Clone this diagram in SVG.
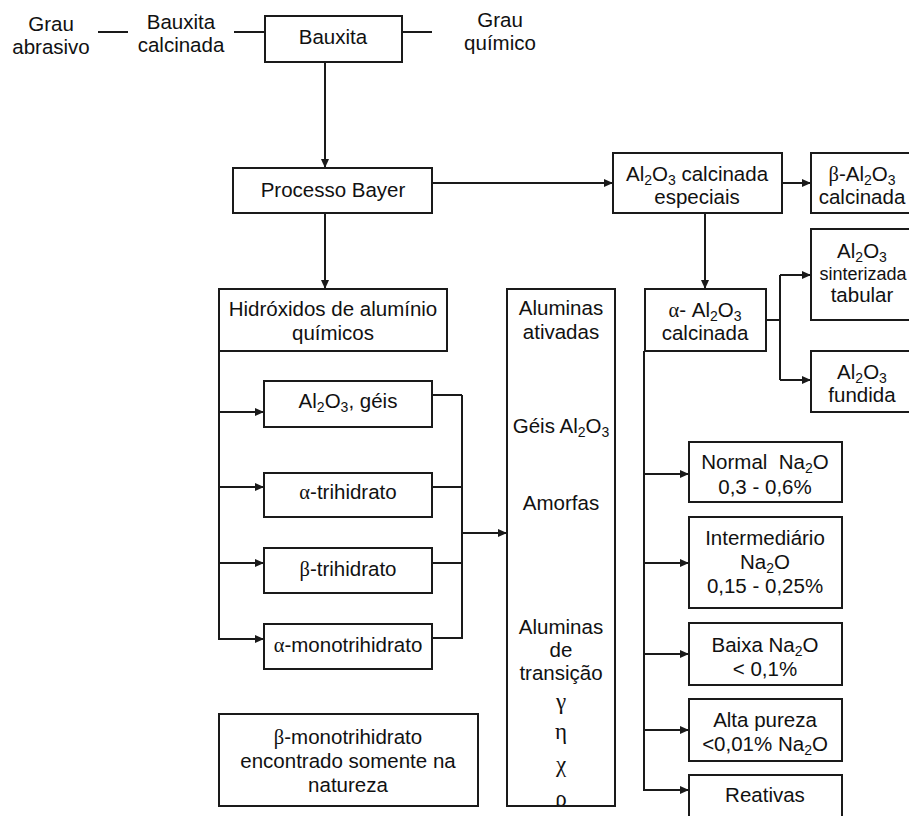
<svg xmlns="http://www.w3.org/2000/svg" width="909" height="816" viewBox="0 0 909 816">
  <style>
    text { font-family: "Liberation Sans", Arial, sans-serif; font-size: 20.5px; fill: #111; text-anchor: middle; }
    .small { font-size: 18px; }
    .gk { font-family: "Liberation Serif", "Times New Roman", serif; }
    .gbig { font-family: "Liberation Serif", "Times New Roman", serif; font-size: 23px; }
    .sub { font-size: 14px; baseline-shift: -4px; }
    .box { fill: #fff; stroke: #1a1a1a; stroke-width: 2; }
    .wire { fill: none; stroke: #1a1a1a; stroke-width: 2; }
    .arr { fill: none; stroke: #1a1a1a; stroke-width: 2; marker-end: url(#head); }
  </style>
  <defs>
    <marker id="head" markerUnits="userSpaceOnUse" markerWidth="9" markerHeight="8" refX="9" refY="4" orient="auto">
      <path d="M0,0 L9,4 L0,8 z" fill="#1a1a1a"/>
    </marker>
    <clipPath id="alClip">
      <rect x="507" y="289" width="108" height="517"/>
    </clipPath>
  </defs>
  <rect width="909" height="816" fill="#fff"/>

  <!-- connectors -->
  <g id="connectors">
    <line class="wire" x1="98" y1="32" x2="128" y2="32"/>
    <line class="wire" x1="234" y1="32" x2="265" y2="32"/>
    <line class="wire" x1="402" y1="32" x2="432" y2="32"/>
    <line class="arr" x1="325" y1="62" x2="325" y2="168"/>
    <line class="arr" x1="325" y1="213" x2="325" y2="289"/>
    <line class="arr" x1="432" y1="183" x2="613" y2="183"/>
    <line class="arr" x1="782" y1="183" x2="811" y2="183"/>
    <line class="arr" x1="705" y1="213" x2="705" y2="289"/>
    <!-- alpha alumina branches -->
    <line class="wire" x1="766" y1="320" x2="780" y2="320"/>
    <line class="wire" x1="780" y1="275" x2="780" y2="380"/>
    <line class="arr" x1="780" y1="275" x2="811" y2="275"/>
    <line class="arr" x1="780" y1="380" x2="811" y2="380"/>
    <line class="wire" x1="644" y1="351" x2="644" y2="790"/>
    <line class="arr" x1="644" y1="474" x2="689" y2="474"/>
    <line class="arr" x1="644" y1="563" x2="689" y2="563"/>
    <line class="arr" x1="644" y1="654" x2="689" y2="654"/>
    <line class="arr" x1="644" y1="730" x2="689" y2="730"/>
    <line class="arr" x1="643" y1="790" x2="689" y2="790"/>
    <!-- hydroxide branches -->
    <line class="wire" x1="219" y1="351" x2="219" y2="639"/>
    <line class="arr" x1="219" y1="412" x2="264" y2="412"/>
    <line class="arr" x1="219" y1="487" x2="264" y2="487"/>
    <line class="arr" x1="219" y1="563" x2="264" y2="563"/>
    <line class="arr" x1="218" y1="639" x2="264" y2="639"/>
    <line class="wire" x1="432" y1="395" x2="462" y2="395"/>
    <line class="wire" x1="432" y1="487" x2="462" y2="487"/>
    <line class="wire" x1="432" y1="563" x2="462" y2="563"/>
    <line class="wire" x1="432" y1="638" x2="463" y2="638"/>
    <line class="wire" x1="462" y1="395" x2="462" y2="638"/>
    <line class="arr" x1="462" y1="533" x2="507" y2="533"/>
  </g>

  <!-- free labels -->
  <g id="grau-abrasivo">
    <text x="51" y="31">Grau</text>
    <text x="51" y="54">abrasivo</text>
  </g>
  <g id="bauxita-calcinada">
    <text x="181" y="29">Bauxita</text>
    <text x="181" y="52">calcinada</text>
  </g>
  <g id="grau-quimico">
    <text x="500" y="27">Grau</text>
    <text x="500" y="50">químico</text>
  </g>

  <g id="bauxita">
    <rect class="box" x="265" y="16" width="137" height="46"/>
    <text x="333" y="44">Bauxita</text>
  </g>

  <g id="processo-bayer">
    <rect class="box" x="233" y="168" width="199" height="45"/>
    <text x="333" y="197">Processo Bayer</text>
  </g>

  <g id="al2o3-especiais">
    <rect class="box" x="613" y="153" width="169" height="60"/>
    <text x="697" y="181">Al<tspan class="sub">2</tspan>O<tspan class="sub">3</tspan> calcinada</text>
    <text x="697" y="204">especiais</text>
  </g>

  <g id="beta-al2o3">
    <rect class="box" x="811" y="153" width="110" height="60"/>
    <text x="862" y="181"><tspan class="gk">β</tspan>-Al<tspan class="sub">2</tspan>O<tspan class="sub">3</tspan></text>
    <text x="862" y="204">calcinada</text>
  </g>

  <g id="al2o3-sinterizada">
    <rect class="box" x="811" y="229" width="110" height="91"/>
    <text x="862" y="258">Al<tspan class="sub">2</tspan>O<tspan class="sub">3</tspan></text>
    <text class="small" x="863" y="280">sinterizada</text>
    <text x="862" y="302">tabular</text>
  </g>

  <g id="al2o3-fundida">
    <rect class="box" x="811" y="351" width="110" height="61"/>
    <text x="862" y="379">Al<tspan class="sub">2</tspan>O<tspan class="sub">3</tspan></text>
    <text x="862" y="402">fundida</text>
  </g>

  <g id="alfa-al2o3">
    <rect class="box" x="645" y="289" width="121" height="62"/>
    <text x="705" y="317"><tspan class="gk">α</tspan>- Al<tspan class="sub">2</tspan>O<tspan class="sub">3</tspan></text>
    <text x="705" y="340">calcinada</text>
  </g>

  <g id="hidroxidos">
    <rect class="box" x="219" y="289" width="228" height="62"/>
    <text x="333" y="316">Hidróxidos de alumínio</text>
    <text x="333" y="340">químicos</text>
  </g>

  <g id="aluminas">
    <rect class="box" x="507" y="289" width="108" height="517"/>
    <g clip-path="url(#alClip)">
      <text x="561" y="315">Aluminas</text>
      <text x="561" y="339">ativadas</text>
      <text x="561" y="433">Géis Al<tspan class="sub">2</tspan>O<tspan class="sub">3</tspan></text>
      <text x="561" y="510">Amorfas</text>
      <text x="561" y="634">Aluminas</text>
      <text x="561" y="657">de</text>
      <text x="561" y="680">transição</text>
      <text class="gbig" x="561" y="709">γ</text>
      <text class="gbig" x="561" y="739">η</text>
      <text class="gbig" x="561" y="772">χ</text>
      <text class="gbig" x="561" y="806">ρ</text>
    </g>
    <rect x="507" y="289" width="108" height="517" fill="none" stroke="#1a1a1a" stroke-width="2"/>
  </g>

  <g id="al2o3-geis">
    <rect class="box" x="264" y="381" width="168" height="46"/>
    <text x="348" y="408">Al<tspan class="sub">2</tspan>O<tspan class="sub">3</tspan>, géis</text>
  </g>

  <g id="alfa-trihidrato">
    <rect class="box" x="264" y="473" width="168" height="44"/>
    <text x="348" y="499"><tspan class="gk">α</tspan>-trihidrato</text>
  </g>

  <g id="beta-trihidrato">
    <rect class="box" x="264" y="548" width="168" height="45"/>
    <text x="348" y="576"><tspan class="gk">β</tspan>-trihidrato</text>
  </g>

  <g id="alfa-monotrihidrato">
    <rect class="box" x="264" y="624" width="168" height="45"/>
    <text x="348" y="652"><tspan class="gk">α</tspan>-monotrihidrato</text>
  </g>

  <g id="beta-monotrihidrato">
    <rect class="box" x="219" y="714" width="259" height="92"/>
    <text x="348" y="744"><tspan class="gk">β</tspan>-monotrihidrato</text>
    <text x="348" y="768">encontrado somente na</text>
    <text x="348" y="792">natureza</text>
  </g>

  <g id="normal-na2o">
    <rect class="box" x="689" y="442" width="153" height="60"/>
    <text x="765" y="469">Normal&#160; Na<tspan class="sub">2</tspan>O</text>
    <text x="765" y="494">0,3 - 0,6%</text>
  </g>

  <g id="intermediario">
    <rect class="box" x="689" y="517" width="153" height="91"/>
    <text x="765" y="545">Intermediário</text>
    <text x="765" y="569">Na<tspan class="sub">2</tspan>O</text>
    <text x="765" y="593">0,15 - 0,25%</text>
  </g>

  <g id="baixa-na2o">
    <rect class="box" x="689" y="623" width="153" height="62"/>
    <text x="765" y="652">Baixa Na<tspan class="sub">2</tspan>O</text>
    <text x="765" y="676">&lt; 0,1%</text>
  </g>

  <g id="alta-pureza">
    <rect class="box" x="689" y="699" width="153" height="62"/>
    <text x="765" y="727">Alta pureza</text>
    <text x="765" y="751">&lt;0,01% Na<tspan class="sub">2</tspan>O</text>
  </g>

  <g id="reativas">
    <rect class="box" x="689" y="775" width="153" height="60"/>
    <text x="765" y="802">Reativas</text>
  </g>
</svg>
